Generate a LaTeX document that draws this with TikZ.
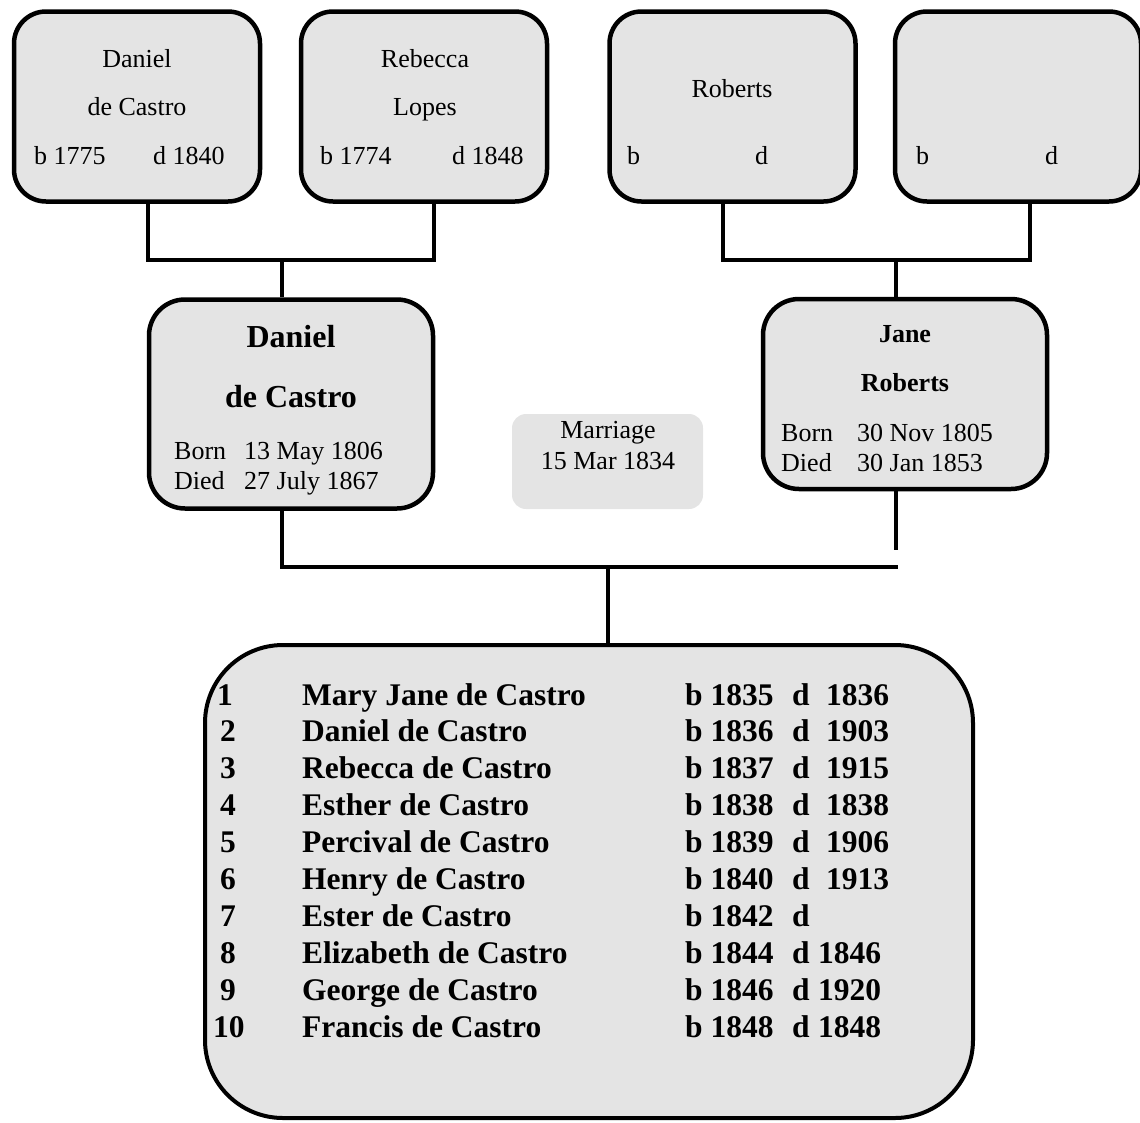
\documentclass[tikz,border=0pt]{standalone}
\usepackage{fontspec}
\setmainfont{Liberation Serif}
\definecolor{boxgray}{RGB}{228,228,228}
\begin{document}
\begin{tikzpicture}[x=1pt,y=-1pt,
  personbox/.style={draw=black, line width=4.5pt, fill=boxgray, inner sep=0pt},
  topbox/.style={personbox, rounded corners=32pt, minimum width=246pt, minimum height=190pt},
  midbox/.style={personbox, rounded corners=36pt},
  link/.style={draw=black, line width=4pt},
  small/.style={font=\fontsize{26}{30}\selectfont, inner sep=0pt},
  bigname/.style={font=\fontsize{32}{36}\selectfont\bfseries, inner sep=0pt},
  midname/.style={font=\fontsize{26}{30}\selectfont\bfseries, inner sep=0pt},
  kid/.style={font=\fontsize{31.5}{36}\selectfont\bfseries, inner sep=0pt, anchor=base west}]

\useasboundingbox (0,0) rectangle (1140,1122);

% grandparents
\node[topbox] (gpa) at (137,106.5) {};
\node[topbox] (gma) at (424,106.5) {};
\node[topbox] (gpb) at (732.5,106.5) {};
\node[topbox] (gmb) at (1018,106.5) {};

\node[small, anchor=base] (gpa1) at (137,67) {Daniel};
\node[small, anchor=base] (gpa2) at (137,115) {de Castro};
\node[small, anchor=base west] (gpa3) at (34,164) {b 1775};
\node[small, anchor=base west] (gpa4) at (153,164) {d 1840};

\node[small, anchor=base] (gma1) at (425,67) {Rebecca};
\node[small, anchor=base] (gma2) at (425,115) {Lopes};
\node[small, anchor=base west] (gma3) at (320,164) {b 1774};
\node[small, anchor=base west] (gma4) at (452,164) {d 1848};

\node[small, anchor=base] (gpb1) at (732,97) {Roberts};
\node[small, anchor=base west] (gpb3) at (627,164) {b};
\node[small, anchor=base west] (gpb4) at (755,164) {d};

\node[small, anchor=base west] (gmb3) at (916,164) {b};
\node[small, anchor=base west] (gmb4) at (1045,164) {d};

% parents
\node[midbox, minimum width=284pt, minimum height=209pt] (dan) at (291,404) {};
\node[bigname, anchor=base] (dan1) at (291,347) {Daniel};
\node[bigname, anchor=base] (dan2) at (291,407) {de Castro};
\node[small, anchor=base west] (dan3) at (174,459) {Born};
\node[small, anchor=base west] (dan4) at (244,459) {13 May 1806};
\node[small, anchor=base west] (dan5) at (174,489) {Died};
\node[small, anchor=base west] (dan6) at (244,489) {27 July 1867};

\node[midbox, minimum width=284pt, minimum height=190pt] (jane) at (905,394) {};
\node[midname, anchor=base] (jane1) at (905,342) {Jane};
\node[midname, anchor=base] (jane2) at (905,391) {Roberts};
\node[small, anchor=base west] (jane3) at (781,441) {Born};
\node[small, anchor=base west] (jane4) at (857,441) {30 Nov 1805};
\node[small, anchor=base west] (jane5) at (781,471) {Died};
\node[small, anchor=base west] (jane6) at (857,471) {30 Jan 1853};

% marriage
\node[fill=boxgray, rounded corners=14pt, minimum width=191pt, minimum height=95pt, inner sep=0pt] (mar) at (607.5,461.5) {};
\node[small, anchor=base] (mar1) at (608,438) {Marriage};
\node[small, anchor=base] (mar2) at (608,469) {15 Mar 1834};

% children
\node[personbox, line width=4pt, rounded corners=78pt, minimum width=768pt, minimum height=473pt] (kids) at (589,881.5) {};

\foreach \r/\nx/\n/\who/\by/\dy/\dx in {
  1/217/1/Mary Jane de Castro/1835/1836/826,
  2/220/2/Daniel de Castro/1836/1903/826,
  3/220/3/Rebecca de Castro/1837/1915/826,
  4/220/4/Esther de Castro/1838/1838/826,
  5/220/5/Percival de Castro/1839/1906/826,
  6/220/6/Henry de Castro/1840/1913/826,
  7/220/7/Ester de Castro/1842//826,
  8/220/8/Elizabeth de Castro/1844/1846/818,
  9/220/9/George de Castro/1846/1920/818,
  10/213/10/Francis de Castro/1848/1848/818} {
  \pgfmathsetmacro{\yy}{705+36.9*(\r-1)}
  \node[kid] (num\r) at (\nx,\yy) {\n};
  \node[kid] (who\r) at (302,\yy) {\who};
  \node[kid] (born\r) at (685,\yy) {b \by};
  \node[kid] (dd\r) at (792,\yy) {d};
  \node[kid] (died\r) at (\dx,\yy) {\dy};
}

% connectors
\coordinate (ja) at (148,260);
\coordinate (jb) at (723,260);
\coordinate (jc) at (282,567);
\coordinate (jd) at (608,567);
\coordinate (je) at (898,567);
\coordinate (jf) at (896,550);
\coordinate (ga) at (434,0);
\coordinate (gb) at (1030,0);

\draw[link] (ja |- gpa.south) -- (ja) -- (ja -| ga) -- (ga |- gma.south);
\draw[link] (jc |- ja) -- (jc |- dan.north);
\draw[link] (jb |- gpb.south) -- (jb) -- (jb -| gb) -- (gb |- gmb.south);
\draw[link] (jf |- jb) -- (jf |- jane.north);
\draw[link] (jc |- dan.south) -- (jc) -- (je);
\draw[link] (jf |- jane.south) -- (jf);
\draw[link] (jd) -- (jd |- kids.north);
\end{tikzpicture}
\end{document}
